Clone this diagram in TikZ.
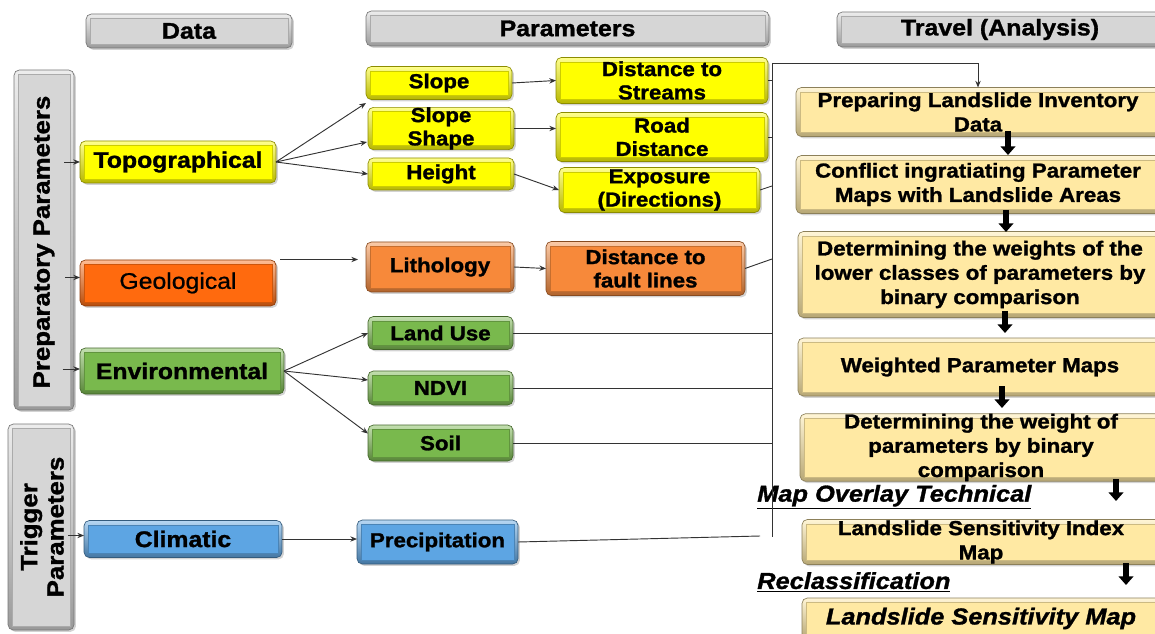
\documentclass[tikz,border=0pt]{standalone}
\usepackage{fontspec}
\setmainfont{Liberation Sans}[FakeStretch=1.1, BoldFeatures={FakeBold=1.3}, BoldItalicFeatures={FakeBold=1.3}]
\newfontfamily\geofont{Liberation Sans}[FakeStretch=1.1, FakeBold=0.9]
\usetikzlibrary{arrows.meta,shadows}
\definecolor{cyel}{HTML}{FFFF00}
\definecolor{corg}{HTML}{FF6A0E}
\definecolor{corgl}{HTML}{F7893A}
\definecolor{cgrn}{HTML}{79B94D}
\definecolor{cblu}{HTML}{5DA5E3}
\definecolor{cgry}{HTML}{D6D6D6}
\definecolor{clt}{HTML}{FFE9A3}
\newcommand\FBig{\fontsize{16.9}{19}\selectfont\bfseries}
\newcommand\FBigm{\geofont\fontsize{16.9}{19}\selectfont}
\newcommand\FSm{\fontsize{15.2}{17.5}\selectfont\bfseries}
\newcommand\FRt{\fontsize{15.2}{18.2}\selectfont\bfseries}
\newcommand\FHd{\fontsize{17}{20}\selectfont\bfseries}
\newcommand\FVt{\fontsize{17.6}{19.8}\selectfont\bfseries}
\newcommand\FLab{\fontsize{17.3}{20}\selectfont\bfseries\itshape}
\tikzset{
  wh/.style args={#1/#2}{minimum width=#1*0.75pt, minimum height=#2*0.75pt},
  bev/.style={rounded corners=4pt, draw=#1!55!black, line width=0.5pt,
    top color=#1!45!white, bottom color=#1!72!black, inner sep=0pt, outer sep=0pt, align=center,
    drop shadow={shadow xshift=1.4pt, shadow yshift=-1.4pt, opacity=0.35},
    path picture={
      \fill[#1, sharp corners] ([shift={(3.2pt,-3.2pt)}]path picture bounding box.north west) rectangle ([shift={(-3.2pt,3.2pt)}]path picture bounding box.south east);
      \draw[#1!80!black, line width=0.3pt, sharp corners] ([shift={(3.2pt,-3.2pt)}]path picture bounding box.north west) rectangle ([shift={(-3.2pt,3.2pt)}]path picture bounding box.south east);
    }},
  conn/.style={draw=black!80, line width=0.7pt},
  arr/.style={conn, -{Stealth[length=5pt,width=4pt]}},
  bigarr/.style={draw=black, line width=3.8pt, -{Triangle[length=6.5pt,width=11pt]}},
}
\begin{document}
\begin{tikzpicture}[x=0.75pt,y=-0.75pt]
\useasboundingbox (0,0) rectangle (1155,634);
% headers
\node[bev=cgry, wh=206/34, font=\FHd] (hdata) at (189,31) {Data};
\node[bev=cgry, wh=403/35, font=\FHd] (hpar) at (567.5,28.5) {Parameters};
\node[bev=cgry, wh=326/35, font=\FHd] (htrv) at (1000,29.5) {Travel (Analysis)};
% side boxes
\node[bev=cgry, wh=60/340] (prep) at (44,240) {};
\node[font=\FVt, rotate=90] (prept) at (44,242) {Preparatory Parameters};
\node[bev=cgry, wh=66/206] (trig) at (41,527) {};
\node[font=\FVt, rotate=90, align=center] (trigt) at (42,527) {Trigger\\Parameters};
% data column
\node[bev=cyel, wh=196/42, font=\FBig] (topo) at (178,162) {Topographical};
\node[bev=corg, wh=196/46, font=\FBigm] (geo) at (178,283) {Geological};
\node[bev=cgrn, wh=204/46, font=\FBig] (env) at (182,371) {Environmental};
\node[bev=cblu, wh=198/37, font=\FBig] (clim) at (183,539) {Climatic};
% parameters
\node[bev=cyel, wh=146/33, font=\FSm] (slope) at (439,83) {Slope};
\node[bev=cyel, wh=146/40, font=\FSm] (sshape) at (441,128.5) {Slope\\Shape};
\node[bev=cyel, wh=146/32, font=\FSm] (height) at (441,174) {Height};
\node[bev=cyel, wh=212/46, font=\FSm] (dstr) at (662,80.5) {Distance to\\Streams};
\node[bev=cyel, wh=212/49, font=\FSm] (road) at (662,137) {Road\\Distance};
\node[bev=cyel, wh=201/45, font=\FSm] (expo) at (659.5,190) {Exposure\\(Directions)};
\node[bev=corgl, wh=148/50, font=\FSm] (litho) at (440,267) {Lithology};
\node[bev=corgl, wh=199/54, font=\FSm] (dfault) at (645.5,268.5) {Distance to\\fault lines};
\node[bev=cgrn, wh=145/33, font=\FSm] (lu) at (440.5,333) {Land Use};
\node[bev=cgrn, wh=145/34, font=\FSm] (ndvi) at (440.5,388) {NDVI};
\node[bev=cgrn, wh=145/36, font=\FSm] (soil) at (440.5,443) {Soil};
\node[bev=cblu, wh=161/44, font=\FSm] (prec) at (437.5,542) {Precipitation};
% analysis column
\node[bev=clt, wh=364/49, font=\FRt] (r1) at (978,112) {Preparing Landslide Inventory\\Data};
\node[bev=clt, wh=364/58, font=\FRt] (r2) at (978,184.5) {Conflict ingratiating Parameter\\Maps with Landslide Areas};
\node[bev=clt, wh=364/86, font=\FRt] (r3) at (980,274.5) {Determining the weights of the\\lower classes of parameters by\\binary comparison};
\node[bev=clt, wh=364/58, font=\FRt] (r4) at (980,367) {Weighted Parameter Maps};
\node[bev=clt, wh=362/67, font=\FRt] (r5) at (981,447.5) {Determining the weight of\\parameters by binary\\comparison};
\node[bev=clt, wh=358/45, font=\FRt] (r6) at (981,542) {Landslide Sensitivity Index\\Map};
\node[bev=clt, wh=358/41, font=\FLab] (r7) at (981,618.5) {Landslide Sensitivity Map};
\node[font=\FLab, anchor=west, inner sep=0pt] (ovl) at (757,497) {\underline{Map Overlay Technical}};
\node[font=\FLab, anchor=west, inner sep=0pt] (rcl) at (757,582) {\underline{Reclassification}};
% coordinates
\coordinate (a1) at (64,162);
\coordinate (a2) at (65,277.5);
\coordinate (a3) at (62.5,369);
\coordinate (a4) at (68,535.5);
\coordinate (t1) at (366,103);
\coordinate (t2) at (367,142);
\coordinate (g1) at (280,259.5);
\coordinate (g2) at (358,259.5);
\coordinate (e2) at (368,380);
\coordinate (e3) at (368,433.5);
\coordinate (vt) at (772,63);
\coordinate (vb) at (772,537);
\coordinate (v3) at (772,186);
\coordinate (v4) at (772,259);
\coordinate (v5) at (760,536);
\coordinate (k1a) at (1008,131); \coordinate (k1b) at (1008,155);
\coordinate (k2a) at (1006,210); \coordinate (k2b) at (1006,232);
\coordinate (k3a) at (1005,311); \coordinate (k3b) at (1005,333);
\coordinate (k4a) at (1002,386); \coordinate (k4b) at (1002,408);
\coordinate (k5a) at (1116,479); \coordinate (k5b) at (1116,501);
\coordinate (k6a) at (1126,563); \coordinate (k6b) at (1126,585);
% left arrows
\draw[arr] (a1) -- (a1 -| topo.west);
\draw[arr] (a2) -- (a2 -| geo.west);
\draw[arr] (a3) -- (a3 -| env.west);
\draw[arr] (a4) -- (a4 -| clim.west);
% data -> parameters
\draw[arr] (topo.east) -- (t1);
\draw[arr] (topo.east) -- (t2);
\draw[arr] (topo.east) -- (height.west);
\draw[arr] (slope.east) -- (dstr.west);
\draw[arr] (sshape.east) -- (sshape.east -| road.west);
\draw[arr] (height.east) -- (expo.west);
\draw[arr] (g1) -- (g2);
\draw[arr] (litho.east) -- (dfault.west);
\draw[arr] (env.east) -- (lu.west);
\draw[arr] (env.east) -- (e2);
\draw[arr] (env.east) -- (e3);
\draw[arr] (clim.east) -- (clim.east -| prec.west);
% collector
\draw[conn] (vt) -- (vb);
\draw[arr] (vt) -| (r1.north);
\draw[conn] (dstr.east) -- (dstr.east -| vt);
\draw[conn] (road.east) -- (road.east -| vt);
\draw[conn] (expo.east) -- (v3);
\draw[conn] (dfault.east) -- (v4);
\draw[conn] (lu.east) -- (lu.east -| vt);
\draw[conn] (ndvi.east) -- (ndvi.east -| vt);
\draw[conn] (soil.east) -- (soil.east -| vt);
\draw[conn] (prec.east) -- (v5);
% thick arrows
\draw[bigarr] (k1a) -- (k1b);
\draw[bigarr] (k2a) -- (k2b);
\draw[bigarr] (k3a) -- (k3b);
\draw[bigarr] (k4a) -- (k4b);
\draw[bigarr] (k5a) -- (k5b);
\draw[bigarr] (k6a) -- (k6b);
\end{tikzpicture}
\end{document}
